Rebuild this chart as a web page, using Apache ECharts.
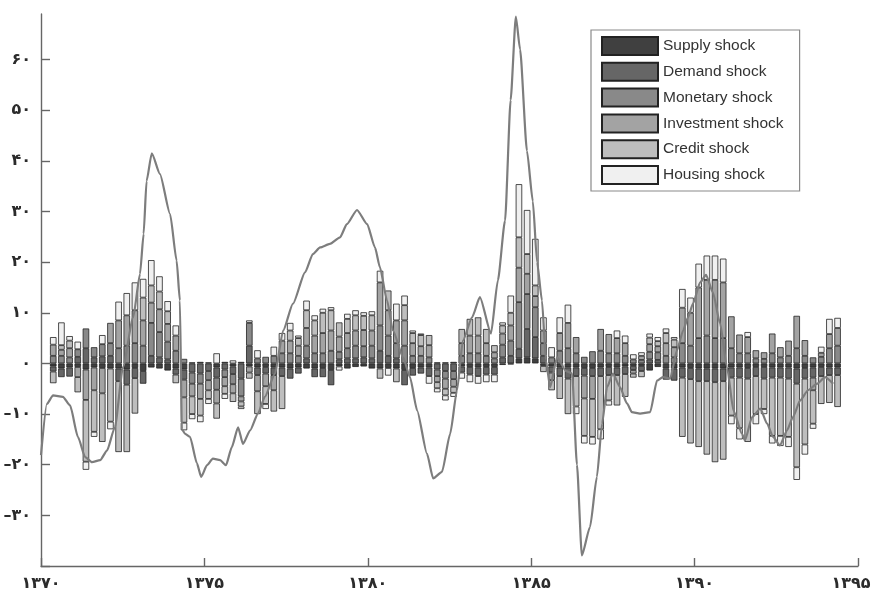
<!DOCTYPE html>
<html>
<head>
<meta charset="utf-8">
<script src="https://cdn.jsdelivr.net/npm/echarts@6/dist/echarts.min.js"></script>
<style>
  html, body { margin: 0; padding: 0; background: #fff; }
  #chart { width: 875px; height: 602px; }
</style>
</head>
<body>
<div id="chart"></div>
<script>
// Quarterly decomposition of the series into six structural shocks (1370–1394)
const firstYear = 1370;
const lastYear = 1395;
const firstQuarterIndex = 1;   // shocks start in the second quarter of 1370

const shockNames = ['Supply shock', 'Demand shock', 'Monetary shock', 'Investment shock', 'Credit shock', 'Housing shock'];
const shockColors = ['#404040', '#666666', '#898989', '#a3a3a3', '#bebebe', '#f0f0f0'];

const supplyShock = [
  -0.6,-1.0,-0.8,-0.7,-1.2,-0.8,-0.9,-1.0,-1.0,-1.2,
  -0.9,-1.5,-0.8,-1.0,-1.4,-1.0,-1.2,0.2,0.3,0.2,
  -0.8,0.3,-0.6,0.3,-0.6,-0.8,-0.7,-0.8,-0.8,-1.0,
  -0.8,-1.0,-1.0,-0.9,-1.3,-0.6,-1.0,-0.7,-0.6,-1.0,
  -1.0,-0.9,-1.0,-1.3,-0.9,-0.8,-0.8,0.2,0.2,0.3,
  -0.6,-0.7,-0.8,-0.7,-0.7,-0.3,-0.2,1.0,1.2,1.0,
  -0.5,-0.6,-0.8,-0.8,-0.8,-0.9,-0.9,-0.8,-0.7,-0.8,
  -0.6,-0.5,-0.5,-1.4,-0.7,-1.0,-1.0,-0.8,-0.9,-1.0,
  -1.0,-1.0,-1.0,-0.8,-0.8,-0.9,-0.7,-0.7,-0.8,-0.8,
  -0.8,-1.0,-0.9,-0.8,-0.7,-0.8,-0.8
];
const demandShock = [
  -1.0,-1.7,-1.8,1.3,3.0,1.2,1.4,1.5,-2.5,-3.0,
  -2.0,-2.5,1.5,1.2,0.8,-1.2,-2.0,-1.8,-2.0,-1.5,
  -2.0,-1.2,-1.5,-3.0,3.5,-1.5,-1.3,-1.5,-1.7,-2.0,
  -1.2,1.0,-1.7,-1.8,-3.0,0.8,1.0,1.0,1.2,1.0,
  2.5,1.5,1.0,-3.0,-1.5,-1.2,-1.7,-1.2,-1.5,-1.5,
  -1.2,-1.5,-1.7,-1.5,-1.5,1.2,1.5,1.9,5.6,4.2,
  1.5,-1.2,-1.7,-2.2,-1.7,-1.5,-1.6,-1.7,-1.6,-1.5,
  -1.5,-0.8,-1.0,0.8,0.7,-2.2,-2.4,-2.0,-2.2,-2.5,
  -2.5,-2.7,-2.5,-2.0,-2.0,-2.1,-1.8,-2.3,-2.0,-2.0,
  -2.2,-3.0,-2.1,-2.0,-1.8,-1.5,-1.5
];
const monetaryShock = [
  1.5,1.5,1.2,1.5,3.9,2.0,2.4,2.5,3.0,3.5,
  4.0,3.5,6.5,5.0,3.5,2.5,0.9,-2.2,-2.0,-1.8,
  -2.4,-1.5,-2.0,-3.5,4.5,1.0,1.3,1.5,2.0,2.0,
  1.5,2.5,2.0,2.0,2.5,1.5,2.0,2.5,2.2,2.5,
  5.0,4.0,3.0,3.5,1.5,1.5,1.2,-1.3,-1.5,-1.6,
  1.5,2.0,2.0,1.5,1.0,2.5,3.0,9.2,6.9,5.9,
  2.5,1.2,2.5,3.0,2.0,1.3,2.4,2.5,2.0,2.0,
  1.5,0.8,0.7,1.5,1.5,1.5,1.2,4.0,3.5,5.0,
  5.5,5.0,5.0,3.0,2.0,2.0,1.0,0.9,2.0,1.2,
  1.5,3.0,1.5,1.2,1.3,3.0,3.5
];
const investmentShock = [
  2.2,1.2,1.8,-2.0,-6.0,-4.5,-5.0,4.0,5.5,6.0,
  6.5,5.0,4.0,4.5,3.5,3.0,-3.5,-2.5,-3.0,-2.0,
  -2.7,-1.8,-1.8,-1.0,-1.2,-3.2,-2.5,-3.0,2.5,2.5,
  2.0,3.5,3.5,4.0,4.0,3.0,3.0,3.0,3.2,3.0,
  8.5,5.0,4.5,5.0,2.5,1.9,2.4,-1.2,-2.0,-1.5,
  2.5,3.5,3.5,2.5,1.2,2.2,3.0,6.8,4.0,2.2,
  2.5,-1.5,3.5,5.0,3.2,-4.5,-4.5,4.3,3.8,3.0,
  2.5,-0.7,0.8,1.5,1.2,2.5,2.0,7.0,6.5,10.0,
  11.0,11.5,11.0,6.3,3.7,3.2,1.6,1.3,3.9,2.0,
  3.0,6.4,3.1,-2.5,0.8,2.8,3.5
];
const creditShock = [
  -2.3,0.9,1.5,-3.0,-12.2,-8.2,-9.6,-10.5,-14.0,-13.3,
  -7.0,4.5,3.4,3.5,2.5,-1.7,-5.0,-3.5,-3.3,-1.7,
  -3.0,-1.5,-1.7,-1.0,-1.2,-4.5,-3.5,-4.2,-6.5,2.0,
  1.5,3.5,3.0,4.0,4.0,2.8,2.8,3.0,2.8,3.0,
  -2.0,3.9,-2.7,3.0,2.0,2.2,2.0,-1.2,-1.3,-1.2,
  2.8,3.3,3.6,2.8,1.4,1.6,2.5,6.0,3.9,2.1,
  -1.2,-2.0,-4.5,-7.0,-6.0,-7.4,-7.5,-10.5,-5.0,-6.0,
  -4.5,-0.8,-1.2,1.3,1.0,2.0,1.5,-11.7,-12.7,-13.0,
  -14.5,-15.8,-15.5,-7.5,-10.0,-12.5,-7.5,-6.0,-11.5,-11.5,
  -11.5,-16.5,-13.0,-6.6,-5.5,-5.5,-6.3
];
const housingShock = [
  1.5,4.5,0.9,1.5,-1.6,-1.0,1.8,-1.5,3.7,4.4,
  5.5,3.7,5.0,3.0,2.0,2.0,-1.5,-1.0,-1.3,-1.0,
  2.0,-1.0,0.6,-0.5,0.5,1.6,-1.0,1.8,1.5,1.5,
  0.5,1.9,1.0,0.8,0.6,-0.8,1.0,1.0,0.7,0.8,
  2.3,-1.5,3.3,1.9,0.5,0.3,-1.5,-0.8,-1.0,-0.8,
  -1.2,-1.5,-1.5,-1.5,-1.5,0.6,3.4,10.5,8.7,9.2,
  2.6,2.0,3.1,3.6,-1.5,-1.5,-1.5,-2.0,-1.0,1.5,
  1.5,1.0,0.7,0.8,0.8,0.9,0.5,3.7,3.0,4.7,
  4.8,4.8,4.7,-1.7,-2.2,1.0,-2.0,-1.0,-1.5,-2.0,
  -2.0,-2.5,-2.0,-1.0,1.2,3.0,2.0
];

// Observed series (deviation), drawn as a line over the stacked shocks
const lineYears = [
  1370.00,1370.18,1370.37,1370.67,1370.89,1371.13,1371.35,1371.56,1371.81,1372.02,
  1372.26,1372.51,1372.82,1373.03,1373.14,1373.23,1373.39,1373.64,1373.95,1374.15,
  1374.25,1374.31,1374.41,1374.56,1374.77,1374.90,1375.08,1375.26,1375.48,1375.66,
  1375.84,1376.03,1376.18,1376.40,1376.64,1376.85,1377.16,1377.41,1377.71,1378.08,
  1378.32,1378.54,1378.84,1379.15,1379.36,1379.67,1379.98,1380.22,1380.37,1380.59,
  1380.77,1381.08,1381.29,1381.51,1381.81,1382.00,1382.27,1382.52,1382.73,1382.91,
  1383.19,1383.43,1383.77,1383.98,1384.20,1384.37,1384.53,1384.66,1384.87,1385.05,
  1385.18,1385.33,1385.45,1385.58,1385.79,1386.07,1386.25,1386.40,1386.55,1386.80,
  1387.01,1387.17,1387.32,1387.50,1387.72,1387.93,1388.08,1388.33,1388.64,1388.85,
  1389.03,1389.25,1389.46,1389.65,1389.80,1389.95,1390.17,1390.35,1390.56,1390.78,
  1390.99,1391.19,1391.45,1391.54,1391.76,1392.01,1392.22,1392.40,1392.61,1392.83,
  1393.01,1393.23,1393.47,1393.75,1393.99,1394.24
];
const lineValues = [
  -18.1,-8.0,-6.3,-6.6,-8.3,-14.5,-18.5,-19.5,-19.1,-17.2,
  -12.6,-0.7,9.1,17.7,25.6,36.0,41.5,37.4,29.5,20.3,
  12.4,-13.0,-13.9,-14.5,-19.7,-22.4,-20.1,-18.8,-19.1,-20.1,
  -16.5,-12.6,-15.9,-13.2,-9.9,-6.6,-2.0,6.5,11.8,18.0,
  21.6,22.9,23.6,24.9,27.5,30.3,27.5,22.9,19.0,12.4,
  6.5,1.2,-2.7,-9.3,-17.8,-22.7,-21.4,-13.9,-5.3,4.5,
  9.1,13.1,5.9,16.4,28.2,52.0,68.5,62.0,42.0,32.0,
  20.0,12.4,0.6,-4.7,1.2,-1.5,-2.0,-20.0,-37.9,-32.3,
  -22.4,-11.9,-4.7,-2.0,-4.7,-7.9,-9.6,-9.9,-9.6,-3.4,
  -2.7,-3.0,2.6,6.5,9.1,11.8,16.0,17.5,14.0,7.9,
  -0.7,-9.3,-13.9,-15.2,-10.6,-8.9,-11.9,-14.5,-16.2,-13.2,
  -10.6,-7.3,-5.3,-4.0,-2.7,-4.0
];

const yTickValues = [-40, -30, -20, -10, 0, 10, 20, 30, 40, 50, 60];
const yLabelValues = [-30, -20, -10, 0, 10, 20, 30, 40, 50, 60];

const persianDigits = '۰۱۲۳۴۵۶۷۸۹';
function toPersian(v) {
  const s = String(Math.abs(v)).replace(/\d/g, d => persianDigits[+d]);
  return v < 0 ? '–' + s : s;
}

// One category per quarter over the full axis span, so the band axis lines up with the year axis
const quarterLabels = [];
for (let y = firstYear; y < lastYear; y++) {
  for (let q = 1; q <= 4; q++) quarterLabels.push(y + 'Q' + q);
}

function onQuarterGrid(values) {
  const out = quarterLabels.map(() => null);
  values.forEach((v, k) => { out[firstQuarterIndex + k] = v; });
  return out;
}

const shockValues = [supplyShock, demandShock, monetaryShock, investmentShock, creditShock, housingShock];

const barSeries = shockNames.map((name, i) => ({
  name: name,
  type: 'bar',
  xAxisIndex: 1,
  stack: 'shocks',
  barWidth: 6.5,
  itemStyle: { color: shockColors[i], borderColor: '#222222', borderWidth: 0.8 },
  data: onQuarterGrid(shockValues[i])
}));

const lineSeries = {
  name: 'Observed',
  type: 'line',
  xAxisIndex: 0,
  z: 5,
  symbol: 'none',
  smooth: 0.2,
  smoothMonotone: 'x',
  lineStyle: { color: '#7d7d7d', width: 2.2 },
  data: lineYears.map((x, i) => [x, lineValues[i]])
};

const labelFont = { fontFamily: 'DejaVu Sans, sans-serif', fontWeight: 'bold', fontSize: 16, color: '#2b2b2b' };

const chart = echarts.init(document.getElementById('chart'), null, { renderer: 'canvas' });
chart.setOption({
  animation: false,
  backgroundColor: '#ffffff',
  grid: { left: 41, right: 17, top: 14, bottom: 36, containLabel: false, outerBoundsMode: 'none' },
  legend: {
    orient: 'vertical',
    left: 591,
    top: 30,
    padding: [6, 16, 6, 10],
    itemWidth: 56,
    itemHeight: 18,
    itemGap: 5.8,
    icon: 'rect',
    borderColor: '#8a8a8a',
    borderWidth: 1.2,
    backgroundColor: '#ffffff',
    textStyle: { fontFamily: 'Liberation Sans, Arial, sans-serif', fontSize: 15.5, color: '#333' },
    data: shockNames
  },
  xAxis: [
    {
      type: 'value',
      min: firstYear,
      max: lastYear,
      interval: 5,
      axisLine: { onZero: false, lineStyle: { color: '#666', width: 1.4 } },
      axisTick: { inside: true, length: 8, lineStyle: { color: '#666', width: 1.4 } },
      splitLine: { show: false },
      axisLabel: Object.assign({
        margin: 10,
        formatter: v => v === lastYear ? '{r|' + toPersian(v) + '}' : toPersian(v),
        rich: { r: Object.assign({ padding: [0, 14, 0, 0] }, labelFont) }
      }, labelFont)
    },
    {
      type: 'category',
      data: quarterLabels,
      boundaryGap: true,
      show: false
    }
  ],
  yAxis: {
    type: 'value',
    min: -40,
    max: 69,
    interval: 10,
    axisLine: { show: true, lineStyle: { color: '#666', width: 1.4 } },
    axisTick: { show: true, inside: true, length: 9, customValues: yTickValues, lineStyle: { color: '#666', width: 1.4 } },
    splitLine: { show: false },
    axisLabel: Object.assign({
      margin: 10,
      customValues: yLabelValues,
      formatter: v => toPersian(v)
    }, labelFont)
  },
  series: [...barSeries, lineSeries]
});
</script>
</body>
</html>
